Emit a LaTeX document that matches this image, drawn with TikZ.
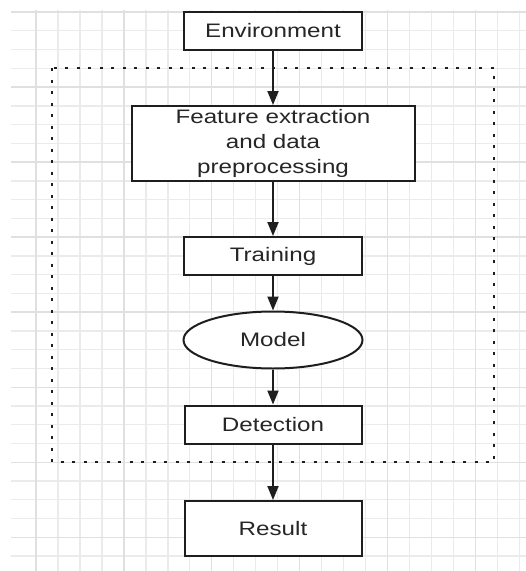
\documentclass[tikz,border=0pt]{standalone}
\usepackage{fontspec}
\usetikzlibrary{arrows.meta,shapes.geometric}
\newfontfamily\lblfont[FakeStretch=1.24]{Liberation Sans}
\definecolor{gridminor}{HTML}{EBEBEB}
\definecolor{gridmajor}{HTML}{E0E0E0}
\definecolor{ink}{HTML}{1E1E1E}
\definecolor{txt}{HTML}{262626}
\tikzset{
  minorline/.style={draw=gridminor, line width=1.4pt},
  majorline/.style={draw=gridmajor, line width=1.4pt},
  stage/.style={draw=ink, fill=white, line width=2pt, inner sep=0pt,
    text=txt, align=center, font=\lblfont\fontsize{19.5}{25}\selectfont},
  rectstage/.style={stage, rectangle},
  ovalstage/.style={stage, ellipse},
  flow/.style={draw=ink, line width=2pt, -{Triangle[width=11pt,length=14pt]}},
  group/.style={draw=ink, line width=2.2pt, dash pattern=on 3pt off 8.5pt}
}
\begin{document}
\begin{tikzpicture}[x=1pt,y=-1pt]
\useasboundingbox (0,0) rectangle (526,571);
% background grid paper
\begin{scope}
  \clip (11,10) rectangle (526,571);
  \foreach \k in {0,...,22}
    \draw[minorline] ({36+21.97*\k},10) -- ({36+21.97*\k},571);
  \foreach \k in {0,...,30}
    \draw[minorline] (11,{12+18.76*\k}) -- (526,{12+18.76*\k});
  \foreach \k in {0,...,5}
    \draw[majorline] ({36+87.88*\k},10) -- ({36+87.88*\k},571);
  \foreach \k in {0,...,7}
    \draw[majorline] (11,{12+75.04*\k}) -- (526,{12+75.04*\k});
\end{scope}
% dotted frame around the processing stages
\draw[group] (52,68) rectangle (494,462);
% stages
\node[rectstage, minimum width=178pt, minimum height=38pt] (env) at (273,31) {Environment};
\node[rectstage, minimum width=283pt, minimum height=75pt] (feat) at (273,143.5)
  {Feature extraction\\and data\\preprocessing};
\node[rectstage, minimum width=178pt, minimum height=38pt] (train) at (273,256) {Training};
\node[ovalstage, minimum width=179pt, minimum height=57pt] (model) at (273,340) {Model};
\node[rectstage, minimum width=177pt, minimum height=38pt] (det) at (273,424.5) {Detection};
\node[rectstage, minimum width=177pt, minimum height=55pt] (res) at (273,528.5) {Result};
% connectors
\draw[flow] (env) -- (feat);
\draw[flow] (feat) -- (train);
\draw[flow] (train) -- (model);
\draw[flow] (model) -- (det);
\draw[flow] (det) -- (res);
\end{tikzpicture}
\end{document}
